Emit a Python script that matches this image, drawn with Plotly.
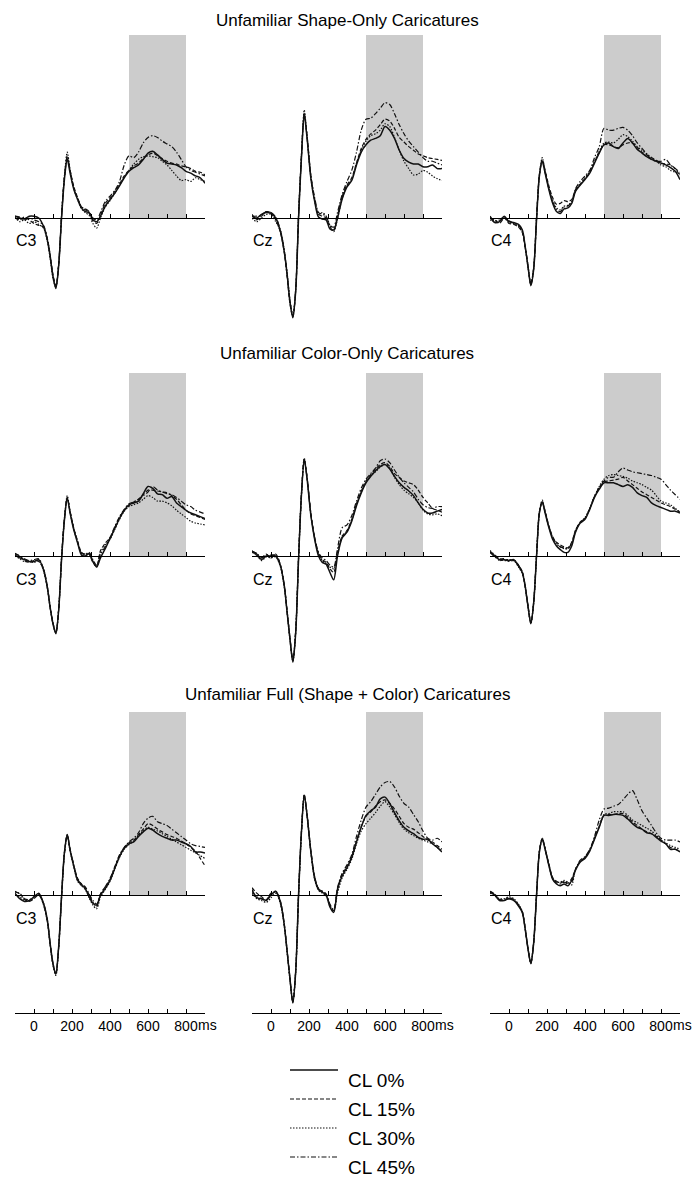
import plotly.graph_objects as go

# ---------------------------------------------------------------------------
# Data: grand-average ERP waveforms (µV) at central electrodes
# ---------------------------------------------------------------------------
TIMES = [-100, -75, -50, -25, 0, 25, 50, 70, 85, 100, 115, 130, 145, 160, 175, 190,
         210, 230, 250, 270, 290, 310, 330, 350, 375, 400, 425, 450, 475, 500, 525,
         550, 575, 600, 625, 650, 675, 700, 725, 750, 775, 800, 825, 850, 875, 900]

ROW_TITLES = ["Unfamiliar Shape-Only Caricatures",
              "Unfamiliar Color-Only Caricatures",
              "Unfamiliar Full (Shape + Color) Caricatures"]
ELECTRODES = ["C3", "Cz", "C4"]
CONDITIONS = ["CL 0%", "CL 15%", "CL 30%", "CL 45%"]

TICK_VALUES = [0, 100, 200, 300, 400, 500, 600, 700, 800, 900]
TICK_TEXT = ["0", "", "200", "", "400", "", "600", "", "800", ""]
WINDOW = [500, 800]

# each panel: [CL 0%, CL 15%, CL 30%, CL 45%]
shape_c3 = [
    [0.1, 0.0, -0.05, 0.1, 0.1, 0.0, -0.45, -1.2, -2.1, -3.2, -3.85, -2.6, 0.0, 2.1, 3.2, 2.45,
     1.55, 1.0, 0.55, 0.35, 0.3, -0.1, -0.2, 0.1, 0.65, 1.0, 1.35, 1.75, 2.2, 2.55, 2.75,
     2.9, 3.2, 3.55, 3.65, 3.45, 3.2, 3.0, 2.95, 2.9, 2.75, 2.55, 2.45, 2.3, 2.2, 1.9],
    [0.0, -0.1, 0.05, -0.1, -0.3, -0.4, -0.5, -1.1, -2.0, -3.1, -3.7, -2.5, 0.1, 2.2, 3.3, 2.6,
     1.7, 1.1, 0.6, 0.45, 0.25, -0.15, -0.3, 0.15, 0.8, 1.1, 1.45, 1.85, 2.3, 2.6, 2.85,
     3.0, 3.25, 3.45, 3.55, 3.4, 3.25, 3.1, 3.0, 2.95, 2.85, 2.8, 2.7, 2.55, 2.5, 2.35],
    [0.05, -0.2, -0.1, -0.3, -0.2, -0.35, -0.55, -1.25, -2.2, -3.3, -3.8, -2.55, 0.15, 2.3, 3.6, 2.6,
     1.6, 1.0, 0.5, 0.3, 0.15, -0.3, -0.55, 0.0, 0.6, 0.95, 1.35, 1.8, 2.25, 2.6, 2.95,
     3.2, 3.35, 3.4, 3.35, 3.3, 3.1, 2.9, 2.6, 2.3, 2.05, 2.1, 2.0, 2.2, 2.1, 2.0],
    [0.1, 0.05, -0.1, 0.0, -0.1, -0.2, -0.4, -1.15, -2.1, -3.2, -3.75, -2.5, 0.1, 2.2, 3.4, 2.6,
     1.6, 1.05, 0.6, 0.5, 0.35, 0.0, -0.1, 0.3, 0.9, 1.2, 1.5, 2.0, 2.9, 3.4, 3.3,
     3.6, 4.1, 4.4, 4.5, 4.4, 4.2, 4.05, 3.9, 3.6, 3.2, 2.8, 2.6, 2.5, 2.4, 2.3],
]
shape_cz = [
    [0.1, 0.0, 0.2, 0.3, 0.25, 0.0, -0.75, -1.85, -3.1, -4.6, -5.45, -4.0, 0.0, 3.25, 5.6, 4.35,
     2.15, 0.9, 0.05, -0.05, -0.1, -0.6, -0.65, 0.0, 1.05, 1.7, 2.05, 2.9, 3.6, 4.0, 4.25,
     4.35, 4.5, 5.0, 4.8, 4.35, 3.7, 3.25, 3.05, 2.95, 2.95, 2.8, 2.8, 2.9, 2.7, 2.7],
    [0.2, -0.1, 0.1, 0.35, 0.3, -0.1, -0.8, -1.9, -3.2, -4.7, -5.4, -3.9, 0.1, 3.3, 5.7, 4.5,
     2.3, 1.0, 0.2, 0.1, 0.0, -0.5, -0.7, 0.1, 1.2, 1.8, 2.2, 3.0, 3.8, 4.3, 4.6,
     4.8, 5.1, 5.4, 5.3, 4.9, 4.4, 4.15, 3.9, 3.7, 3.5, 3.4, 3.3, 3.25, 3.2, 3.15],
    [0.0, -0.2, 0.0, 0.2, 0.2, -0.2, -0.7, -1.8, -3.0, -4.5, -5.3, -3.9, 0.2, 3.4, 5.9, 4.4,
     2.2, 0.95, 0.2, 0.3, 0.1, -0.4, -0.75, -0.05, 1.1, 1.75, 2.1, 3.0, 3.7, 4.2, 4.5,
     4.6, 4.8, 5.15, 5.0, 4.4, 3.7, 3.1, 2.7, 2.35, 2.4, 2.6, 2.5, 2.3, 2.15, 2.05],
    [0.1, 0.1, 0.15, 0.35, 0.3, 0.05, -0.7, -1.8, -3.1, -4.55, -5.35, -3.95, 0.1, 3.3, 5.75, 4.4,
     2.3, 1.1, 0.3, 0.2, 0.1, -0.4, -0.5, 0.3, 1.3, 2.0, 2.6, 3.6, 4.8, 5.4, 5.45,
     5.7, 6.0, 6.3, 6.2, 5.7, 5.1, 4.6, 4.2, 3.9, 3.6, 3.3, 3.1, 3.1, 3.0, 2.9],
]
shape_c4 = [
    [0.1, -0.25, -0.2, 0.1, -0.2, -0.25, -0.35, -0.65, -1.55, -2.65, -3.7, -2.8, -0.1, 2.3, 3.1, 2.45,
     1.55, 0.8, 0.35, 0.25, 0.5, 0.55, 0.8, 1.45, 1.8, 2.1, 2.45, 3.0, 3.55, 4.0, 4.1,
     3.9, 3.8, 4.1, 4.35, 4.1, 3.75, 3.55, 3.35, 3.2, 3.1, 3.0, 2.9, 2.75, 2.55, 2.1],
    [0.0, -0.1, -0.3, 0.0, -0.3, -0.35, -0.5, -0.8, -1.6, -2.6, -3.6, -2.7, 0.0, 2.4, 3.2, 2.6,
     1.75, 1.1, 0.75, 0.8, 0.95, 0.9, 1.0, 1.55, 1.85, 2.15, 2.5, 3.05, 3.6, 4.0, 4.0,
     3.9, 3.85, 4.0, 4.1, 4.1, 3.85, 3.6, 3.45, 3.3, 3.15, 3.0, 2.95, 2.9, 2.7, 2.3],
    [-0.1, -0.2, -0.1, 0.05, -0.25, -0.3, -0.45, -0.75, -1.6, -2.7, -3.6, -2.75, 0.0, 2.35, 3.3, 2.55,
     1.6, 0.95, 0.55, 0.45, 0.65, 0.7, 0.9, 1.5, 1.85, 2.2, 2.55, 3.1, 3.65, 4.1, 4.15,
     4.1, 4.3, 4.55, 4.45, 4.2, 3.9, 3.7, 3.5, 3.3, 3.1, 2.9, 2.8, 2.6, 2.5, 2.4],
    [0.05, -0.15, -0.15, 0.0, -0.15, -0.3, -0.4, -0.7, -1.55, -2.6, -3.65, -2.75, 0.0, 2.3, 3.15, 2.5,
     1.6, 0.9, 0.45, 0.35, 0.6, 0.65, 0.9, 1.6, 2.0, 2.3, 2.6, 3.3, 3.9, 4.9, 4.8,
     4.8, 4.9, 4.95, 4.8, 4.5, 4.1, 3.8, 3.5, 3.2, 3.1, 3.1, 3.2, 2.9, 2.7, 2.5],
]
color_c3 = [
    [0.05, -0.1, -0.2, -0.3, -0.3, -0.2, -0.75, -1.7, -2.8, -3.7, -4.25, -2.95, -0.2, 1.95, 3.15, 2.35,
     1.4, 0.7, 0.05, 0.0, 0.15, -0.3, -0.6, -0.1, 0.4, 0.95, 1.5, 2.05, 2.5, 2.8, 2.9,
     3.0, 3.4, 3.8, 3.7, 3.4, 3.35, 3.15, 3.25, 2.9, 2.7, 2.5, 2.35, 2.25, 2.15, 2.05],
    [0.1, 0.0, -0.25, -0.35, -0.25, -0.3, -0.7, -1.65, -2.75, -3.65, -4.2, -2.9, -0.15, 2.0, 3.2, 2.45,
     1.5, 0.8, 0.2, 0.1, 0.1, -0.35, -0.55, 0.3, 0.7, 1.0, 1.55, 2.1, 2.5, 2.75, 2.95,
     3.1, 3.35, 3.6, 3.6, 3.55, 3.5, 3.45, 3.3, 3.1, 2.8, 2.5, 2.3, 2.2, 2.1, 2.0],
    [0.0, -0.15, -0.3, -0.3, -0.35, -0.25, -0.8, -1.75, -2.85, -3.75, -4.2, -2.9, -0.1, 2.05, 3.3, 2.4,
     1.45, 0.75, 0.15, 0.05, 0.1, -0.3, -0.6, 0.2, 0.6, 0.9, 1.45, 2.0, 2.45, 2.7, 2.8,
     2.9, 3.1, 3.3, 3.2, 3.0, 3.0, 2.9, 2.75, 2.5, 2.3, 2.1, 1.9, 1.8, 1.75, 1.7],
    [0.15, 0.0, -0.15, -0.25, -0.2, -0.15, -0.7, -1.7, -2.8, -3.7, -4.2, -2.9, -0.15, 2.0, 3.2, 2.4,
     1.45, 0.75, 0.15, 0.1, 0.2, -0.2, -0.5, 0.1, 0.5, 1.0, 1.6, 2.15, 2.55, 2.85, 2.95,
     3.1, 3.3, 3.5, 3.8, 3.6, 3.5, 3.4, 3.35, 3.2, 3.0, 2.8, 2.7, 2.5, 2.4, 2.3],
]
color_cz = [
    [0.25, 0.1, -0.2, 0.0, 0.0, 0.0, -0.55, -1.65, -3.1, -4.55, -5.8, -4.2, -0.2, 3.3, 5.25, 4.2,
     2.2, 0.9, 0.0, -0.35, -0.45, -0.9, -1.3, 0.0, 1.0, 1.3, 1.9, 2.75, 3.45, 4.0, 4.35,
     4.65, 4.9, 5.0, 4.75, 4.35, 4.0, 3.75, 3.55, 3.3, 2.9, 2.55, 2.35, 2.35, 2.45, 2.55],
    [0.3, 0.0, -0.1, 0.1, -0.1, 0.1, -0.5, -1.6, -3.0, -4.5, -5.7, -4.1, -0.1, 3.35, 5.3, 4.3,
     2.3, 1.0, 0.15, -0.2, -0.35, -0.7, -0.9, 0.2, 1.1, 1.4, 2.0, 2.85, 3.55, 4.1, 4.45,
     4.75, 5.0, 5.1, 4.9, 4.5, 4.3, 4.1, 4.0, 3.9, 3.6, 3.2, 2.9, 2.6, 2.5, 2.4],
    [0.2, 0.05, -0.25, -0.05, -0.1, -0.05, -0.6, -1.7, -3.1, -4.6, -5.75, -4.15, -0.15, 3.3, 5.35, 4.25,
     2.25, 0.95, 0.1, -0.25, -0.4, -0.6, -0.7, 0.1, 1.05, 1.35, 1.95, 2.8, 3.5, 4.05, 4.4,
     4.6, 4.85, 5.0, 4.8, 4.3, 3.9, 3.6, 3.4, 3.2, 2.9, 2.5, 2.3, 2.25, 2.3, 2.2],
    [0.25, 0.15, -0.1, 0.05, 0.05, 0.05, -0.5, -1.6, -3.05, -4.5, -5.7, -4.1, -0.1, 3.3, 5.25, 4.25,
     2.3, 1.0, 0.2, -0.1, -0.25, -0.5, -0.6, 0.4, 1.55, 1.7, 2.2, 3.0, 3.7, 4.2, 4.5,
     4.8, 5.2, 5.3, 5.1, 4.7, 4.3, 4.0, 3.75, 3.5, 3.1, 2.8, 2.65, 2.6, 2.7, 2.7],
]
color_c4 = [
    [0.25, 0.0, -0.2, -0.2, -0.25, -0.2, -0.55, -0.9, -1.65, -2.75, -3.7, -2.55, 0.0, 2.35, 2.95, 2.35,
     1.55, 0.9, 0.55, 0.35, 0.2, 0.2, 0.55, 1.3, 1.8, 2.0, 2.55, 3.2, 3.65, 4.0, 4.0,
     4.0, 3.9, 3.8, 3.9, 3.75, 3.45, 3.3, 3.2, 2.9, 2.75, 2.65, 2.55, 2.45, 2.45, 2.35],
    [0.2, 0.05, -0.15, -0.15, -0.3, -0.25, -0.5, -0.85, -1.6, -2.7, -3.65, -2.5, 0.05, 2.4, 3.0, 2.45,
     1.65, 1.05, 0.75, 0.6, 0.5, 0.45, 0.75, 1.4, 1.85, 2.05, 2.6, 3.25, 3.7, 4.05, 4.1,
     4.15, 4.2, 4.3, 4.1, 3.9, 3.7, 3.5, 3.35, 3.2, 3.05, 2.9, 2.8, 2.7, 2.55, 2.4],
    [0.3, 0.05, -0.25, -0.2, -0.2, -0.25, -0.6, -0.95, -1.7, -2.8, -3.7, -2.55, 0.0, 2.4, 3.05, 2.4,
     1.6, 1.0, 0.65, 0.5, 0.4, 0.4, 0.7, 1.4, 1.85, 2.1, 2.6, 3.25, 3.8, 4.2, 4.4,
     4.45, 4.4, 4.35, 4.25, 4.1, 4.0, 3.9, 3.75, 3.6, 3.3, 3.0, 2.9, 2.8, 2.6, 2.4],
    [0.2, -0.05, -0.2, -0.25, -0.25, -0.2, -0.5, -0.9, -1.65, -2.75, -3.65, -2.5, 0.05, 2.35, 2.95, 2.4,
     1.6, 1.0, 0.7, 0.5, 0.45, 0.4, 0.7, 1.35, 1.85, 2.05, 2.6, 3.25, 3.75, 4.1, 4.3,
     4.3, 4.6, 4.8, 4.7, 4.6, 4.55, 4.5, 4.45, 4.4, 4.3, 4.2, 3.9, 3.6, 3.35, 3.1],
]
full_c3 = [
    [0.1, -0.2, -0.35, -0.3, -0.1, 0.1, -0.45, -1.35, -2.65, -3.75, -4.3, -2.8, -0.1, 2.3, 3.3, 2.45,
     1.55, 0.8, 0.55, 0.35, -0.1, -0.45, -0.55, 0.0, 0.35, 0.8, 1.45, 2.1, 2.55, 2.8, 2.9,
     3.2, 3.45, 3.65, 3.55, 3.35, 3.2, 3.1, 3.0, 3.0, 2.9, 2.8, 2.65, 2.35, 2.35, 2.3],
    [0.15, 0.1, -0.25, -0.35, -0.2, 0.0, -0.5, -1.4, -2.7, -3.8, -4.35, -2.85, -0.05, 2.25, 3.25, 2.5,
     1.6, 0.9, 0.6, 0.4, 0.0, -0.4, -0.65, 0.05, 0.45, 0.85, 1.5, 2.15, 2.6, 2.85, 3.0,
     3.3, 3.6, 3.9, 3.8, 3.6, 3.45, 3.3, 3.2, 3.1, 2.95, 2.8, 2.6, 2.4, 2.0, 1.6],
    [0.0, -0.1, -0.3, -0.35, -0.15, 0.05, -0.55, -1.45, -2.75, -3.85, -4.4, -2.9, -0.15, 2.25, 3.25, 2.4,
     1.5, 0.75, 0.5, 0.3, -0.15, -0.55, -0.75, -0.1, 0.3, 0.75, 1.4, 2.05, 2.5, 2.75, 2.95,
     3.25, 3.5, 3.7, 3.6, 3.5, 3.35, 3.2, 3.05, 2.9, 2.75, 2.6, 2.45, 2.3, 2.15, 2.0],
    [0.2, 0.05, -0.2, -0.25, -0.1, 0.05, -0.45, -1.35, -2.65, -3.75, -4.3, -2.8, -0.1, 2.3, 3.3, 2.5,
     1.6, 0.85, 0.6, 0.45, 0.05, -0.3, -0.5, 0.05, 0.45, 0.9, 1.55, 2.2, 2.6, 2.9, 3.1,
     3.4, 3.9, 4.2, 4.3, 4.0, 3.9, 3.8, 3.6, 3.4, 3.2, 3.0, 2.8, 2.7, 2.65, 2.6],
]
full_cz = [
    [0.3, -0.15, -0.2, -0.3, 0.0, 0.2, -0.4, -1.65, -3.1, -4.6, -5.9, -4.2, 0.0, 3.4, 5.45, 4.35,
     2.35, 0.9, 0.3, 0.15, 0.0, -0.65, -0.95, 0.3, 1.05, 1.5, 2.05, 2.9, 3.7, 4.35, 4.6,
     4.8, 5.25, 5.35, 5.0, 4.5, 4.05, 3.7, 3.5, 3.35, 3.15, 3.05, 3.05, 2.8, 2.6, 2.35],
    [0.4, 0.1, -0.1, -0.25, 0.1, 0.2, -0.35, -1.6, -3.05, -4.55, -5.85, -4.15, 0.05, 3.45, 5.5, 4.4,
     2.4, 1.0, 0.35, 0.2, 0.05, -0.55, -0.85, 0.35, 1.15, 1.55, 2.1, 2.95, 3.75, 4.3, 4.55,
     4.85, 5.1, 5.2, 5.0, 4.7, 4.3, 3.9, 3.7, 3.6, 3.4, 3.2, 3.0, 2.9, 2.7, 2.5],
    [0.1, -0.2, -0.3, -0.4, -0.15, 0.1, -0.5, -1.7, -3.15, -4.65, -5.85, -4.2, -0.05, 3.35, 5.4, 4.3,
     2.3, 0.85, 0.25, 0.1, -0.05, -0.6, -0.9, 0.1, 0.95, 1.4, 1.95, 2.8, 3.5, 3.9, 4.2,
     4.5, 4.85, 5.1, 4.8, 4.4, 3.95, 3.6, 3.4, 3.25, 3.1, 3.0, 2.9, 2.8, 2.6, 2.4],
    [0.2, -0.1, -0.2, -0.3, 0.05, 0.15, -0.45, -1.65, -3.1, -4.6, -5.85, -4.15, 0.0, 3.4, 5.45, 4.35,
     2.4, 0.95, 0.35, 0.2, 0.05, -0.5, -0.8, 0.4, 1.2, 1.65, 2.2, 3.2, 4.1, 4.8, 5.1,
     5.5, 5.9, 6.15, 6.2, 5.9, 5.4, 5.0, 4.8, 4.4, 4.0, 3.5, 3.1, 3.0, 3.1, 2.9],
]
full_c4 = [
    [0.15, 0.0, -0.3, -0.3, -0.2, -0.3, -0.6, -0.95, -1.85, -2.95, -3.75, -2.6, 0.0, 2.35, 3.05, 2.5,
     1.6, 0.85, 0.6, 0.5, 0.6, 0.5, 0.8, 1.35, 1.8, 2.0, 2.4, 3.05, 3.7, 4.35, 4.35,
     4.4, 4.4, 4.35, 4.15, 3.9, 3.7, 3.6, 3.4, 3.35, 3.15, 2.95, 2.8, 2.5, 2.5, 2.35],
    [0.2, 0.05, -0.25, -0.25, -0.15, -0.25, -0.55, -0.9, -1.8, -2.9, -3.7, -2.55, 0.05, 2.4, 3.1, 2.55,
     1.7, 0.95, 0.75, 0.65, 0.75, 0.65, 0.9, 1.4, 1.85, 2.05, 2.45, 3.1, 3.75, 4.35, 4.4,
     4.4, 4.45, 4.45, 4.25, 4.0, 3.8, 3.6, 3.45, 3.35, 3.2, 3.0, 2.8, 2.6, 2.5, 2.4],
    [0.1, -0.05, -0.2, -0.2, -0.1, -0.2, -0.5, -0.9, -1.8, -2.9, -3.7, -2.6, 0.0, 2.4, 3.1, 2.55,
     1.65, 0.9, 0.7, 0.7, 0.8, 0.7, 0.55, 1.4, 1.85, 2.05, 2.45, 3.1, 3.75, 4.4, 4.45,
     4.55, 4.55, 4.55, 4.35, 4.1, 3.95, 3.8, 3.65, 3.5, 3.25, 3.0, 2.85, 2.7, 2.6, 2.5],
    [0.2, 0.0, -0.25, -0.3, -0.2, -0.3, -0.55, -0.95, -1.85, -2.95, -3.75, -2.6, 0.0, 2.35, 3.05, 2.5,
     1.65, 0.9, 0.65, 0.6, 0.7, 0.6, 0.7, 1.4, 1.9, 2.1, 2.5, 3.2, 4.1, 4.7, 4.75,
     4.85, 4.95, 5.2, 5.5, 5.7, 5.2, 4.6, 4.2, 3.8, 3.4, 3.1, 3.0, 3.0, 3.0, 2.9],
]

PANELS = [[shape_c3, shape_cz, shape_c4],
          [color_c3, color_cz, color_c4],
          [full_c3, full_cz, full_c4]]

# ---------------------------------------------------------------------------
# Page geometry (pixels)
# ---------------------------------------------------------------------------
W, H = 694, 1177
FONT = "Liberation Sans, Arial, sans-serif"
INK = "#111111"
SHADE = "#cccccc"

Y_TOP, Y_BOT = 10.0, -6.45          # µV range of each panel
PX_PER_UV = 18.3
ROW_ZERO_PX = [218, 556, 895]       # vertical pixel of the 0 µV line
ROW_TITLE_PX = [20, 353, 694]
COL_LEFT_PX = [15, 252, 490]
PANEL_W_PX = 190
BOTTOM_AXIS_PX = ROW_ZERO_PX[2] - Y_BOT * PX_PER_UV

STYLES = [
    dict(dash="solid", width=1.5),
    dict(dash="4px,2px", width=1.2),
    dict(dash="1.5px,1.5px", width=1.2),
    dict(dash="5px,2px,1.5px,2px", width=1.2),
]


def py(px):
    return 1 - px / H


fig = go.Figure()
layout = {}
annotations = []
shapes = []

for r, row in enumerate(PANELS):
    zero = ROW_ZERO_PX[r]
    top_px = zero - Y_TOP * PX_PER_UV
    bot_px = zero - Y_BOT * PX_PER_UV
    for c, series in enumerate(row):
        k = r * 3 + c + 1
        xa = "x" if k == 1 else f"x{k}"
        ya = "y" if k == 1 else f"y{k}"
        xkey = "xaxis" if k == 1 else f"xaxis{k}"
        ykey = "yaxis" if k == 1 else f"yaxis{k}"
        left = COL_LEFT_PX[c]
        last_row = r == len(PANELS) - 1

        # draw CL 45% first so the CL 0% trace sits on top; in the last row the
        # CL 0% trace is bound to the labelled time axis (same range) underneath
        for i in reversed(range(len(CONDITIONS))):
            st = STYLES[i]
            trace_x = f"x{10 + c}" if (last_row and i == 0) else xa
            fig.add_trace(go.Scatter(
                x=TIMES, y=series[i], mode="lines", name=CONDITIONS[i], showlegend=False,
                line=dict(color=INK, width=st["width"], dash=st["dash"],
                          shape="spline", smoothing=0.8),
                xaxis=trace_x, yaxis=ya, hoverinfo="skip"))

        layout[xkey] = dict(
            domain=[left / W, (left + PANEL_W_PX) / W], range=[-100, 900],
            anchor="free", position=py(zero),
            showline=True, linecolor="#000", linewidth=1,
            ticks="inside", ticklen=4, tickwidth=1, tickcolor="#000",
            tickvals=TICK_VALUES, showticklabels=False,
            showgrid=False, zeroline=False, fixedrange=True)
        layout[ykey] = dict(
            domain=[py(bot_px), py(top_px)], range=[Y_BOT, Y_TOP],
            visible=False, anchor=xa, fixedrange=True)

        # analysis window
        shapes.append(dict(type="rect", xref=xa, yref=ya, x0=WINDOW[0], x1=WINDOW[1],
                           y0=0, y1=Y_TOP, fillcolor=SHADE, line=dict(width=0),
                           layer="below"))
        # electrode label
        annotations.append(dict(xref=xa, yref=ya, x=-100, y=0, text=ELECTRODES[c],
                                showarrow=False, xanchor="left", yanchor="middle",
                                xshift=-1, yshift=-23,
                                font=dict(family=FONT, size=16, color="#000")))

    annotations.append(dict(xref="paper", yref="paper", x=0.5, y=py(ROW_TITLE_PX[r]),
                            text=ROW_TITLES[r], showarrow=False, xanchor="center",
                            yanchor="middle", font=dict(family=FONT, size=17, color="#000")))

# time axes with labels under the last row
for c in range(3):
    k = 10 + c
    base = f"x{7 + c}"
    layout[f"xaxis{k}"] = dict(
        overlaying=base, anchor="free", position=py(BOTTOM_AXIS_PX), range=[-100, 900],
        showline=True, linecolor="#000", linewidth=1,
        ticks="inside", ticklen=4, tickwidth=1, tickcolor="#000",
        tickvals=TICK_VALUES, ticktext=TICK_TEXT,
        tickfont=dict(family=FONT, size=14, color="#000"),
        showgrid=False, zeroline=False, fixedrange=True)
    annotations.append(dict(xref=base, yref="paper", x=800, y=py(BOTTOM_AXIS_PX + 12),
                            text="ms", showarrow=False, xanchor="left", yanchor="middle",
                            xshift=10, font=dict(family=FONT, size=14, color="#000")))

# legend
LEGEND_LINE_PX = [1070, 1099, 1128, 1157]
for cond, st, ly in zip(CONDITIONS, STYLES, LEGEND_LINE_PX):
    shapes.append(dict(type="line", xref="paper", yref="paper",
                       x0=290 / W, x1=338 / W, y0=py(ly), y1=py(ly),
                       line=dict(color=INK, width=st["width"], dash=st["dash"])))
    annotations.append(dict(xref="paper", yref="paper", x=346 / W, y=py(ly + 10),
                            text=cond, showarrow=False, xanchor="left", yanchor="middle",
                            font=dict(family=FONT, size=19, color="#000")))

fig.update_layout(
    width=W, height=H, margin=dict(l=0, r=0, t=0, b=0),
    paper_bgcolor="white", plot_bgcolor="rgba(0,0,0,0)",
    showlegend=False, shapes=shapes, annotations=annotations,
    font=dict(family=FONT, color="#000"),
    **layout)

fig.write_html("out.html")
